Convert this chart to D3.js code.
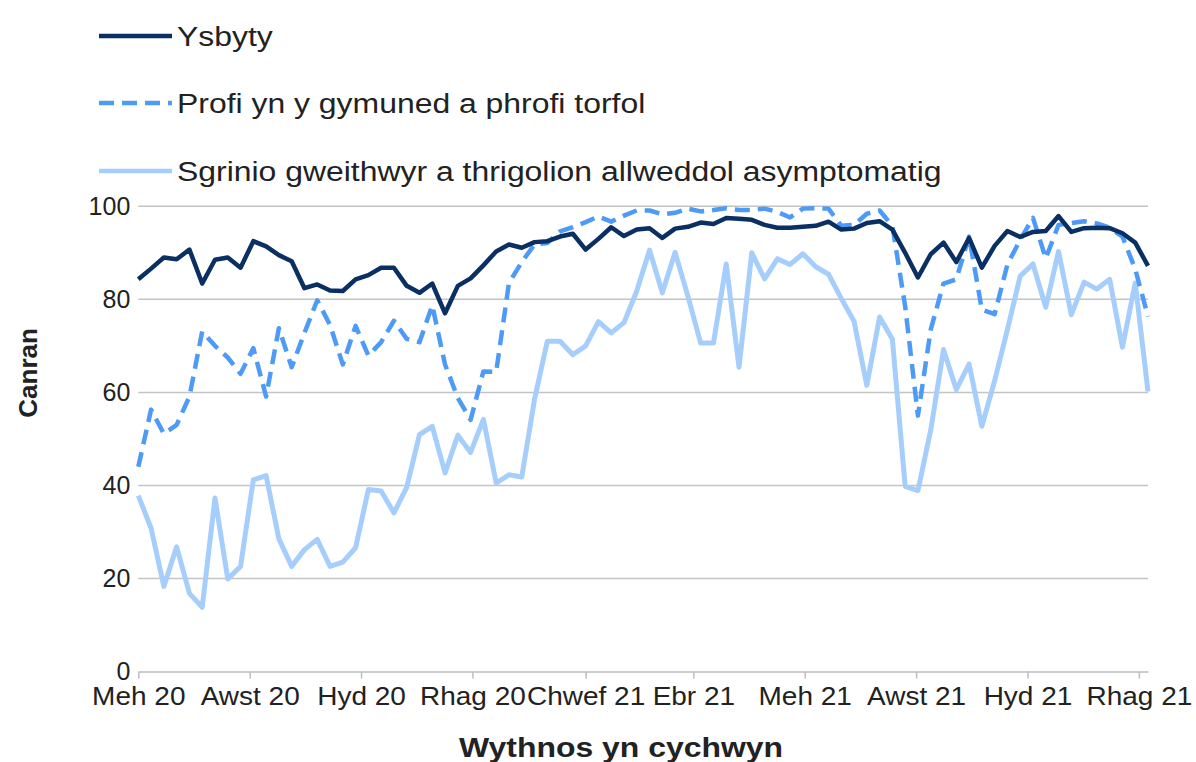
<!DOCTYPE html>
<html>
<head>
<meta charset="utf-8">
<script src="https://cdnjs.cloudflare.com/ajax/libs/d3/7.8.5/d3.min.js"></script>
<style>
  body { margin: 0; background: #fff; }
  text { font-family: "Liberation Sans", Arial, sans-serif; fill: #222; }
</style>
</head>
<body>
<div id="chart"></div>
<script>
(function(){
    var width = 1196,
        height = 762;

    // weeks beginning (Mondays) 1 June 2020 .. 6 Dec 2021
    var weeks = d3.timeMonday.range(new Date(2020, 5, 1), new Date(2021, 11, 7));

    var ysbyty = [84.3,86.6,89.0,88.6,90.7,83.4,88.5,89.0,86.8,92.5,
                  91.4,89.5,88.2,82.4,83.2,81.9,81.8,84.3,85.2,86.8,
                  86.8,82.9,81.4,83.4,77.0,82.9,84.5,87.3,90.3,91.8,
                  91.1,92.3,92.5,93.5,94.1,90.7,93.0,95.5,93.6,95.0,
                  95.3,93.2,95.2,95.6,96.5,96.2,97.5,97.3,97.1,96.0,
                  95.4,95.4,95.6,95.8,96.7,95.0,95.2,96.4,96.8,95.0,
                  90.0,84.7,89.7,92.2,88.0,93.2,86.8,91.5,94.7,93.4,
                  94.5,94.7,97.9,94.5,95.3,95.4,95.3,94.2,92.2,87.2];

    var profi = [44.0,56.3,51.1,53.0,59.1,73.1,70.0,67.5,64.0,69.5,
                 59.1,73.8,65.4,72.8,79.8,74.5,66.0,74.3,67.9,70.8,
                 75.4,71.5,70.8,78.7,66.0,58.8,54.1,64.5,64.4,83.5,
                 88.0,91.8,92.1,94.6,95.5,96.6,97.8,96.7,98.0,99.1,
                 99.1,98.3,98.6,99.5,98.9,99.2,99.6,99.2,99.2,99.5,
                 98.8,97.6,99.5,99.6,99.5,95.8,96.0,98.4,99.1,95.8,
                 78.5,55.0,73.5,83.4,84.3,93.5,77.8,76.8,87.5,92.8,
                 97.5,88.8,96.0,96.4,96.8,96.3,95.4,93.5,86.5,76.3];

    var sgrinio = [37.8,30.8,18.3,26.8,16.8,13.8,37.3,19.9,22.6,41.2,
                   42.1,28.5,22.6,26.2,28.4,22.6,23.5,26.6,39.1,38.8,
                   34.1,39.6,50.9,52.7,42.7,50.8,47.1,54.2,40.5,42.3,
                   41.8,58.5,71.0,71.0,68.1,70.0,75.2,72.8,75.0,81.8,
                   90.6,81.4,90.1,80.7,70.6,70.6,87.6,65.4,90.0,84.4,
                   88.7,87.5,89.8,87.0,85.4,80.2,75.3,61.5,76.2,71.4,
                   39.8,38.9,51.9,69.2,60.6,66.1,52.7,62.5,73.5,85.0,
                   87.6,78.3,90.3,76.7,83.7,82.2,84.3,69.7,83.5,60.2];

    var seriesNames = ["Ysbyty",
                       "Profi yn y gymuned a phrofi torfol",
                       "Sgrinio gweithwyr a thrigolion allweddol asymptomatig"];
    var seriesColors = ["#0a2f63", "#4d9bf6", "#a6cefc"];
    var seriesDash = [null, "15,8", null];

    var tickDates = [new Date(2020,5,1), new Date(2020,7,1), new Date(2020,9,1),
                     new Date(2020,11,1), new Date(2021,1,1), new Date(2021,3,1),
                     new Date(2021,5,1), new Date(2021,7,1), new Date(2021,9,1),
                     new Date(2021,11,1)];
    var tickLabels = ["Meh 20","Awst 20","Hyd 20","Rhag 20","Chwef 21",
                      "Ebr 21","Meh 21","Awst 21","Hyd 21","Rhag 21"];
    var yTicks = [0, 20, 40, 60, 80, 100];

    var left = 138.3, right = 1148, top = 206.3, bottom = 671.5;

    var svg = d3.select("#chart")
        .append("svg")
        .attr("width", width)
        .attr("height", height);

    var x = d3.scaleTime()
        .domain([weeks[0], weeks[weeks.length - 1]])
        .range([left, right]);

    var y = d3.scaleLinear()
        .domain([0, 100])
        .range([bottom, top]);

    // gridlines
    svg.append("g")
        .selectAll("line")
        .data(yTicks.filter(function(d){ return d > 0 }))
        .enter().append("line")
        .attr("x1", left)
        .attr("x2", right)
        .attr("y1", function(d){ return y(d) })
        .attr("y2", function(d){ return y(d) })
        .attr("stroke", "#c4c4c4")
        .attr("stroke-width", 1.5);

    // y axis labels
    var yAxis = svg.append("g")
        .attr("transform", "translate(" + left + ",0)")
        .call(d3.axisLeft(y).tickValues(yTicks).tickSize(0).tickPadding(8));
    yAxis.select(".domain").remove();
    yAxis.selectAll("text")
        .style("font-size", "25px")
        .attr("fill", "#222");

    // x axis
    var xAxis = svg.append("g")
        .attr("transform", "translate(0," + bottom + ")")
        .call(d3.axisBottom(x)
            .tickValues(tickDates)
            .tickFormat(function(d, i){ return tickLabels[i] })
            .tickSize(7)
            .tickSizeOuter(0)
            .tickPadding(9));
    xAxis.select(".domain").attr("stroke", "#bdbdbd").attr("stroke-width", 1.5);
    xAxis.selectAll(".tick line").attr("stroke", "#bdbdbd").attr("stroke-width", 1.5);
    xAxis.selectAll("text")
        .style("font-size", "25px")
        .attr("transform", "scale(1.12,1)")
        .attr("fill", "#222");

    // lines
    var allSeries = [ysbyty, profi, sgrinio];
    var line = d3.line()
        .x(function(d, i){ return x(weeks[i]) })
        .y(function(d){ return y(d) });

    // draw light first so dark sits on top
    [2, 1, 0].forEach(function(k){
        svg.append("path")
            .datum(allSeries[k])
            .attr("d", line)
            .attr("fill", "none")
            .attr("stroke", seriesColors[k])
            .attr("stroke-width", k == 2 ? 5 : 4.5)
            .attr("stroke-linejoin", "round")
            .attr("stroke-dasharray", seriesDash[k]);
    });

    // legend
    var legend = svg.append("g");
    var legY = [36, 103, 171];
    seriesNames.forEach(function(name, k){
        legend.append("line")
            .attr("x1", 99).attr("x2", 172)
            .attr("y1", legY[k]).attr("y2", legY[k])
            .attr("stroke", seriesColors[k])
            .attr("stroke-width", 4.5)
            .attr("stroke-dasharray", seriesDash[k]);
        legend.append("text")
            .attr("transform", "translate(177," + (legY[k] + 10) + ") scale(1.14,1)")
            .style("font-size", "28px")
            .text(name);
    });

    // axis titles
    svg.append("text")
        .attr("transform", "translate(621,757) scale(1.14,1)")
        .attr("text-anchor", "middle")
        .style("font-size", "28px")
        .style("font-weight", "bold")
        .text("Wythnos yn cychwyn");

    svg.append("text")
        .attr("transform", "translate(37," + ((top + bottom) / 2 - 66) + ") rotate(-90)")
        .attr("text-anchor", "middle")
        .style("font-size", "26px")
        .style("font-weight", "bold")
        .text("Canran");
})();
</script>
</body>
</html>
